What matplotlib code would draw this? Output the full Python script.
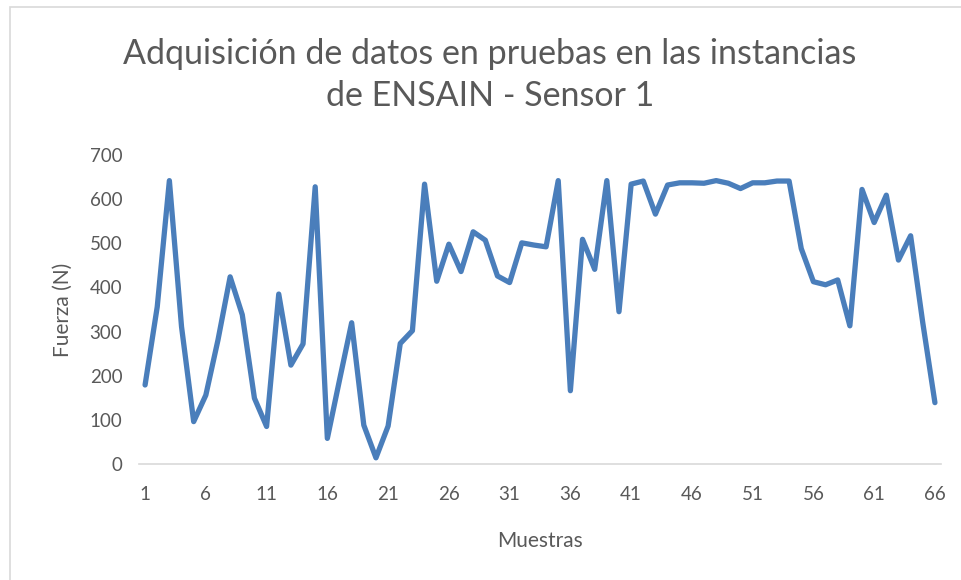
import matplotlib
matplotlib.use("Agg")
import matplotlib.pyplot as plt
from matplotlib.patches import Rectangle

muestras = list(range(1, 67))
fuerza = [179, 356, 642, 311, 96, 156, 281, 424, 338, 149,
          85, 385, 224, 272, 628, 58, 190, 320, 88, 14,
          86, 273, 302, 634, 414, 498, 436, 526, 507, 426,
          411, 501, 496, 492, 642, 166, 509, 441, 642, 345,
          634, 641, 566, 632, 637, 637, 636, 642, 636, 624,
          637, 637, 641, 641, 488, 413, 406, 417, 313, 622,
          547, 609, 462, 517, 320, 139]
x_ticks = list(range(1, 67, 5))
y_ticks = [0, 100, 200, 300, 400, 500, 600, 700]

title = "Adquisición de datos en pruebas en las instancias\nde ENSAIN - Sensor 1"
xlabel = "Muestras"
ylabel = "Fuerza (N)"

plt.rcParams['font.family'] = ['Lato', 'DejaVu Sans']
gray = '#595959'

fig = plt.figure(figsize=(9.61, 5.80), dpi=100)
fig.patches.append(Rectangle((10/961, -0.1), 1.1, (580-7)/580 + 0.1, transform=fig.transFigure,
                             fill=False, edgecolor='#d9d9d9', linewidth=1.2))
ax = fig.add_axes([139/961, 116/580, 802/961, 309/580])
ax.plot(muestras, fuerza, color='#4a7ebb', linewidth=3.8,
        solid_joinstyle='round', solid_capstyle='round')
ax.set_xlim(0.5, 66.5)
ax.set_ylim(0, 700)
ax.set_xticks(x_ticks)
ax.set_yticks(y_ticks)
for s in ['top', 'right', 'left']:
    ax.spines[s].set_visible(False)
ax.spines['bottom'].set_color('#d9d9d9')
ax.spines['bottom'].set_linewidth(1.2)
ax.spines['bottom'].set_zorder(0)
ax.tick_params(axis='both', length=0, labelsize=13.5, labelcolor=gray)
ax.tick_params(axis='x', pad=16)
ax.tick_params(axis='y', pad=12)
ax.set_xlabel(xlabel, fontsize=15, color=gray, labelpad=20)
ax.set_ylabel(ylabel, fontsize=15, color=gray, labelpad=12)
fig.text(490/961, 1 - 75/580, title, ha='center', va='center', fontsize=24.5,
         color=gray, linespacing=1.42)
fig.savefig('out.png', dpi=100)
